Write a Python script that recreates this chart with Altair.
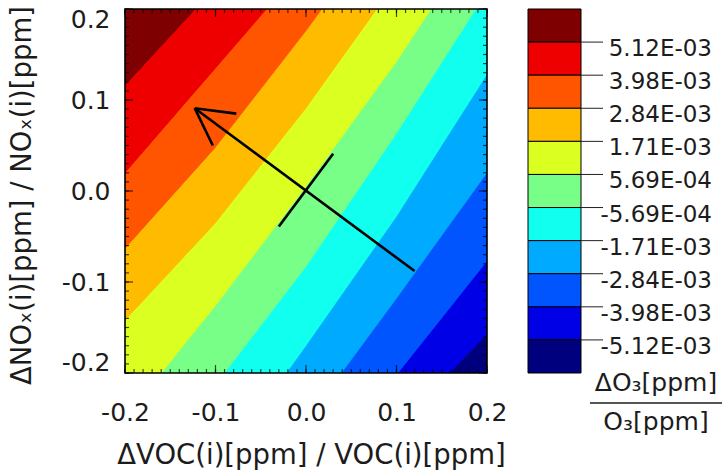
import altair as alt
import pandas as pd

FONT = "DejaVu Sans"
TEXT = "#1c1c1c"

# Plot window (fractional perturbations)
x_min, x_max = -0.2, 0.2
y_min, y_max = -0.2, 0.2

# Contour levels of dO3/O3, highest first (boundaries between colour bands)
levels = [5.12e-3, 3.98e-3, 2.84e-3, 1.71e-3, 5.69e-4,
          -5.69e-4, -1.71e-3, -2.84e-3, -3.98e-3, -5.12e-3]

# Band fill colours, highest band first
band_colors = ["#7f0000", "#ee0000", "#ff5500", "#ffbb00", "#dcff22",
               "#77ff88", "#11ffee", "#00aaff", "#0055ff", "#0000e6", "#00007f"]

# dVOC/VOC columns along which each level line is traced
cols = [-0.2, -0.1, 0.0, 0.1, 0.2]

# dNOx/NOx height of each level line at those columns (same order as levels);
# values past +-0.2 continue the line beyond the plot window
level_y = [
    [0.115, 0.223, 0.336, 0.450, 0.562],
    [0.019, 0.134, 0.249, 0.363, 0.479],
    [-0.064, 0.047, 0.175, 0.310, 0.445],
    [-0.143, -0.036, 0.090, 0.229, 0.369],
    [-0.251, -0.127, 0.004, 0.141, 0.292],
    [-0.342, -0.214, -0.084, 0.062, 0.218],
    [-0.449, -0.310, -0.171, -0.029, 0.127],
    [-0.523, -0.389, -0.254, -0.119, 0.019],
    [-0.576, -0.452, -0.327, -0.203, -0.078],
    [-0.680, -0.467, -0.364, -0.261, -0.158],
]

# Direction arrow and the short cross line through the origin
arrow_tail = (0.120, -0.088)
arrow_tip = (-0.123, 0.091)
head_wings = [(-0.077, 0.085), (-0.103, 0.050)]
cross_line = [(-0.030, -0.039), (0.030, 0.041)]

major_ticks = [-0.2, -0.1, 0.0, 0.1, 0.2]
minor_ticks = [round(-0.2 + 0.01 * i, 2) for i in range(41)]

W, H = 362, 364

# ---- contour bands: each band lies between two neighbouring level lines
above = [1.0] * len(cols)
below = [-1.0] * len(cols)
edges = [above] + level_y + [below]
band_rows = []
for i, col in enumerate(band_colors):
    for c, xv in enumerate(cols):
        band_rows.append({"band": i, "col": xv, "hi": edges[i][c],
                          "lo": edges[i + 1][c], "color": col})
bands_df = pd.DataFrame(band_rows)

xs = alt.Scale(domain=[x_min, x_max], nice=False, zero=False)
ys = alt.Scale(domain=[y_min, y_max], nice=False, zero=False)

label_expr = ("datum.value < 0 ? '-' + format(-datum.value, '.1f') "
              ": format(datum.value, '.1f')")

x_axis = alt.Axis(values=major_ticks, labelExpr=label_expr, ticks=False, tickSize=0,
                  domain=False, grid=False, labelFont=FONT, labelFontSize=25,
                  labelColor=TEXT, labelPadding=27, labelFlush=False,
                  title="ΔVOC(i)[ppm] / VOC(i)[ppm]", titleFont=FONT,
                  titleFontSize=27.5, titleFontWeight="normal", titleColor=TEXT,
                  titleX=186, titleY=82, titleBaseline="middle", titleAlign="center")
y_axis = alt.Axis(values=major_ticks, labelExpr=label_expr, ticks=False, tickSize=0,
                  domain=False, grid=False, labelFont=FONT, labelFontSize=25,
                  labelColor=TEXT, labelPadding=15, labelFlush=True,
                  labelFlushOffset=2,
                  title="ΔNOₓ(i)[ppm] / NOₓ(i)[ppm]", titleFont=FONT,
                  titleFontSize=27.5, titleFontWeight="normal", titleColor=TEXT,
                  titleX=-103, titleY=186, titleAngle=270,
                  titleBaseline="middle", titleAlign="center")

bands = alt.Chart(bands_df).mark_area(clip=True, strokeWidth=1).encode(
    x=alt.X("col:Q", scale=xs, axis=x_axis),
    y=alt.Y("lo:Q", scale=ys, axis=y_axis, stack=None),
    y2="hi:Q",
    fill=alt.Fill("color:N", scale=None),
    stroke=alt.Stroke("color:N", scale=None),
    detail="band:N",
)

# ---- arrow and cross line
segs = pd.DataFrame(
    [{"x": arrow_tail[0], "y": arrow_tail[1], "x2": arrow_tip[0], "y2": arrow_tip[1]}]
    + [{"x": arrow_tip[0], "y": arrow_tip[1], "x2": wx, "y2": wy} for wx, wy in head_wings]
    + [{"x": cross_line[0][0], "y": cross_line[0][1],
        "x2": cross_line[1][0], "y2": cross_line[1][1]}]
)
arrow = alt.Chart(segs).mark_rule(color="black", strokeWidth=2.6).encode(
    x=alt.X("x:Q", scale=xs), y=alt.Y("y:Q", scale=ys),
    x2="x2:Q", y2="y2:Q",
)

# ---- inward ticks on all four sides
def x_ticks(vals, length, ypix):
    return alt.Chart(pd.DataFrame({"v": vals})).mark_tick(
        orient="vertical", size=length, thickness=1.2, color="black"
    ).encode(x=alt.X("v:Q", scale=xs), y=alt.value(ypix))


def y_ticks(vals, length, xpix):
    return alt.Chart(pd.DataFrame({"v": vals})).mark_tick(
        orient="horizontal", size=length, thickness=1.2, color="black"
    ).encode(y=alt.Y("v:Q", scale=ys), x=alt.value(xpix))


ticks = [
    x_ticks(minor_ticks, 4, H - 2), x_ticks(minor_ticks, 4, 2),
    x_ticks(major_ticks, 8, H - 4), x_ticks(major_ticks, 8, 4),
    y_ticks(minor_ticks, 4, 2), y_ticks(minor_ticks, 4, W - 2),
    y_ticks(major_ticks, 8, 4), y_ticks(major_ticks, 8, W - 4),
]

one = pd.DataFrame({"k": [0]})
frame = alt.Chart(one).mark_rect(fillOpacity=0, stroke="black", strokeWidth=1.6).encode(
    x=alt.value(0), x2=alt.value(W), y=alt.value(0), y2=alt.value(H)
)

# ---- colour bar beside the plot, sharing the plot's vertical extent
n_bands = len(band_colors)
step = (y_max - y_min) / n_bands
cb_df = pd.DataFrame({
    "top": [y_max - i * step for i in range(n_bands)],
    "bottom": [y_max - (i + 1) * step for i in range(n_bands)],
    "color": band_colors,
})
cbar = alt.Chart(cb_df).mark_rect(stroke="black", strokeWidth=1).encode(
    x=alt.value(403), x2=alt.value(456),
    y=alt.Y("top:Q", scale=ys), y2="bottom:Q",
    fill=alt.Fill("color:N", scale=None),
)
lab_df = pd.DataFrame({
    "pos": [y_max - (j + 1) * step for j in range(len(levels))],
    "label": [f"{v:.2E}" for v in levels],
})
cb_ticks = alt.Chart(lab_df).mark_rule(color="#222222", strokeWidth=1).encode(
    x=alt.value(456), x2=alt.value(478), y=alt.Y("pos:Q", scale=ys)
)
cb_labels = alt.Chart(lab_df).mark_text(
    align="right", baseline="middle", dy=7, font=FONT, fontSize=23, color=TEXT
).encode(x=alt.value(587), y=alt.Y("pos:Q", scale=ys), text="label:N")

num = alt.Chart(pd.DataFrame({"t": ["ΔO₃[ppm]"]})).mark_text(
    align="center", baseline="alphabetic", font=FONT, fontSize=25, color=TEXT
).encode(x=alt.value(531), y=alt.value(382), text="t:N")
bar = alt.Chart(one).mark_rule(color=TEXT, strokeWidth=1.5).encode(
    x=alt.value(465), x2=alt.value(597), y=alt.value(394)
)
den = alt.Chart(pd.DataFrame({"t": ["O₃[ppm]"]})).mark_text(
    align="center", baseline="alphabetic", font=FONT, fontSize=25, color=TEXT
).encode(x=alt.value(531), y=alt.value(421), text="t:N")

chart = alt.layer(
    bands, arrow, *ticks, frame, cbar, cb_ticks, cb_labels, num, bar, den
).properties(
    width=W, height=H,
    autosize=alt.AutoSizeParams(type="none"),
    padding={"left": 125, "top": 9, "right": 238, "bottom": 101},
    background="white",
).configure_view(strokeWidth=0)

chart.save("out.html", embed_options={"renderer": "svg", "actions": False})
